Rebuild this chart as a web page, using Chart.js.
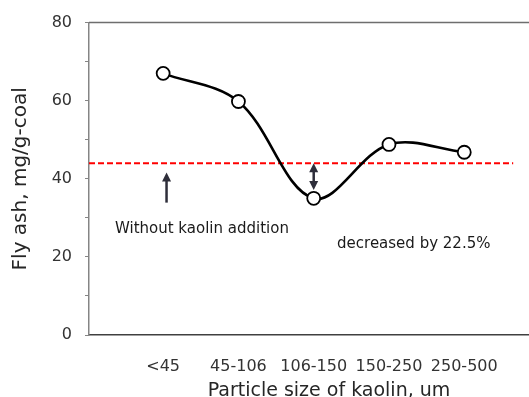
<!DOCTYPE html>
<html>
<head>
<meta charset="utf-8">
<script src="https://cdn.jsdelivr.net/npm/chart.js@4"></script>
<style>
  html, body { margin: 0; padding: 0; background: #fff; overflow: hidden; }
</style>
</head>
<body>
<canvas id="chart" width="529" height="397"></canvas>
<script>
const categories = ['<45', '45-106', '106-150', '150-250', '250-500'];
const flyAsh = [67.0, 59.8, 35.0, 48.8, 46.8];
const withoutKaolin = 44.0;
const baselineSpan = [0.015, 5.65];
const xRange = [0.015, 5.86];
const yRange = [0, 80];

const FONT = '"DejaVu Sans", "Liberation Sans", Arial, sans-serif';

// annotations in data units
const upArrow = { x: 1.045, from: 33.9, to: 41.6 };
const gapArrow = { x: 3.0, from: 44.0, to: 37.1 };
const notes = [
  { text: 'Without kaolin addition', x: 0.36, y: 26.1 },
  { text: 'decreased by 22.5%', x: 3.31, y: 22.4 }
];

function arrowHead(ctx, x, y, dir) {
  ctx.beginPath();
  ctx.moveTo(x, y);
  ctx.lineTo(x - 4.5, y + dir * 9);
  ctx.lineTo(x + 4.5, y + dir * 9);
  ctx.closePath();
  ctx.fill();
}

const extras = {
  id: 'extras',
  afterDatasetsDraw(chart) {
    const { ctx, chartArea, scales: { x, y } } = chart;
    ctx.save();
    // top frame line
    ctx.strokeStyle = '#6e6e6e';
    ctx.lineWidth = 1.5;
    ctx.beginPath();
    ctx.moveTo(chartArea.left, chartArea.top);
    ctx.lineTo(chartArea.right, chartArea.top);
    ctx.stroke();

    ctx.strokeStyle = '#2e2e3a';
    ctx.fillStyle = '#2e2e3a';
    ctx.lineWidth = 2.5;
    // single arrow
    let ax = x.getPixelForValue(upArrow.x);
    let y0 = y.getPixelForValue(upArrow.from), y1 = y.getPixelForValue(upArrow.to);
    ctx.beginPath();
    ctx.moveTo(ax, y0);
    ctx.lineTo(ax, y1 + 6);
    ctx.stroke();
    arrowHead(ctx, ax, y1, 1);
    // double arrow
    ax = x.getPixelForValue(gapArrow.x);
    y0 = y.getPixelForValue(gapArrow.from);
    y1 = y.getPixelForValue(gapArrow.to);
    ctx.beginPath();
    ctx.moveTo(ax, y0 + 6);
    ctx.lineTo(ax, y1 - 6);
    ctx.stroke();
    arrowHead(ctx, ax, y0, 1);
    arrowHead(ctx, ax, y1, -1);

    ctx.fillStyle = '#1a1a1a';
    ctx.font = '15px ' + FONT;
    ctx.textAlign = 'left';
    ctx.textBaseline = 'alphabetic';
    notes.forEach(n => {
      ctx.fillText(n.text, x.getPixelForValue(n.x), y.getPixelForValue(n.y));
    });

    // x axis title
    ctx.fillStyle = '#262626';
    ctx.font = '19px ' + FONT;
    ctx.textAlign = 'center';
    ctx.fillText('Particle size of kaolin, um', 329, 396);
    ctx.restore();
  }
};

new Chart(document.getElementById('chart').getContext('2d'), {
  type: 'line',
  data: {
    datasets: [
      {
        data: flyAsh.map((v, i) => ({ x: i + 1, y: v })),
        borderColor: '#000',
        borderWidth: 2.6,
        tension: 0.35,
        pointRadius: 6.5,
        pointBackgroundColor: '#fff',
        pointBorderColor: '#000',
        pointBorderWidth: 1.8,
        order: 1
      },
      {
        data: baselineSpan.map(v => ({ x: v, y: withoutKaolin })),
        borderColor: '#ff0000',
        borderWidth: 2,
        borderDash: [6, 3],
        pointRadius: 0,
        order: 2
      }
    ]
  },
  options: {
    responsive: false,
    animation: false,
    layout: { autoPadding: false, padding: { top: 22, right: 0, bottom: 0, left: 0 } },
    plugins: { legend: { display: false }, tooltip: { enabled: false } },
    scales: {
      x: {
        type: 'linear',
        min: xRange[0],
        max: xRange[1],
        afterFit(s) { s.height = 62; s.paddingLeft = 0; s.paddingRight = 0; },
        border: { color: '#404040', width: 1.5 },
        grid: { display: false },
        afterBuildTicks(s) { s.ticks = categories.map((c, i) => ({ value: i + 1 })); },
        ticks: {
          autoSkip: false,
          maxRotation: 0,
          padding: 14,
          color: '#333',
          font: { family: FONT, size: 16 },
          callback: v => categories[v - 1] || ''
        }
      },
      y: {
        min: yRange[0],
        max: yRange[1],
        afterFit(s) { s.width = 89; },
        border: { color: '#858585', width: 1.5 },
        grid: { drawOnChartArea: false, drawTicks: true, tickLength: 4, color: '#858585', lineWidth: 1 },
        ticks: {
          stepSize: 10,
          padding: 13,
          color: '#333',
          font: { family: FONT, size: 16 },
          callback: v => (v % 20 === 0 ? v : '')
        },
        title: {
          display: true,
          text: 'Fly ash, mg/g-coal',
          color: '#262626',
          font: { family: FONT, size: 20 },
          padding: { top: 9, bottom: 0 }
        }
      }
    }
  },
  plugins: [extras]
});
</script>
</body>
</html>
